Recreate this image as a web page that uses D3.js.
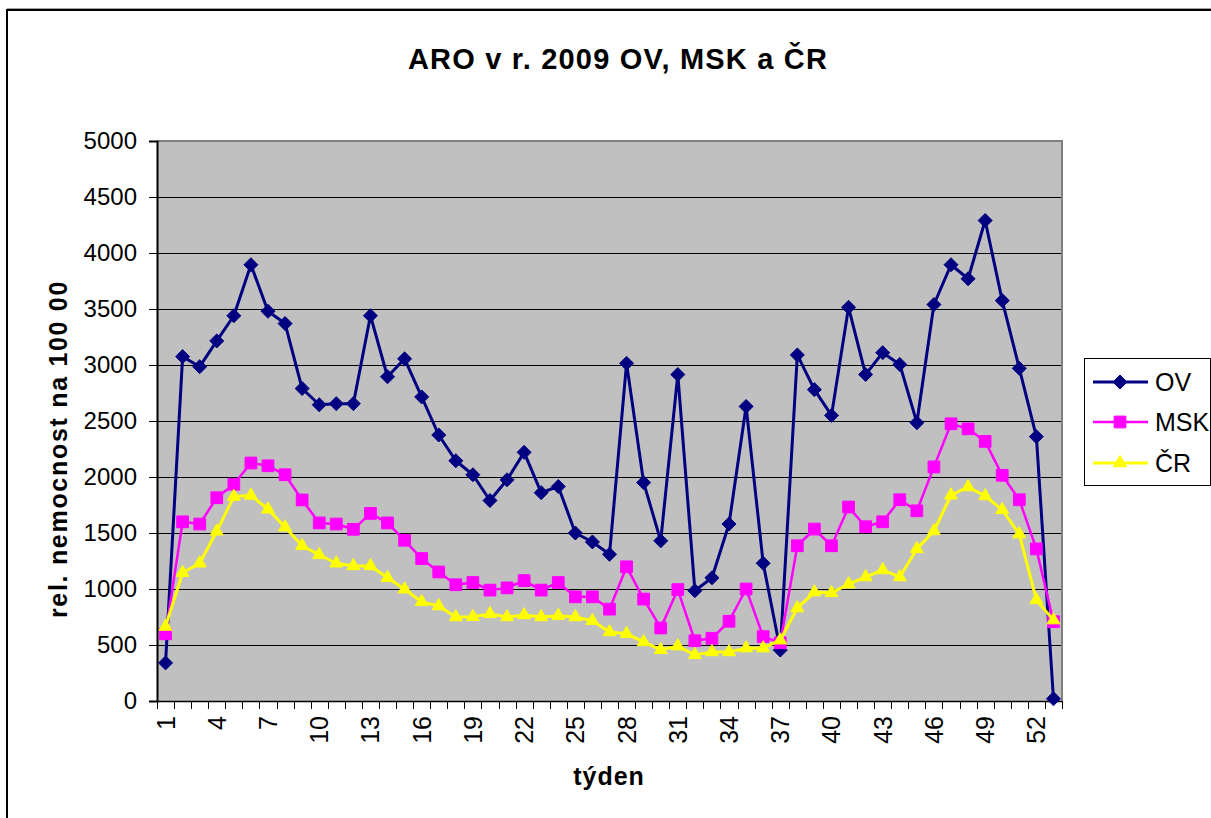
<!DOCTYPE html>
<html>
<head>
<meta charset="utf-8">
<script src="https://cdn.jsdelivr.net/npm/d3@7"></script>
<style>
  body { margin: 0; background: #fff; }
  svg { display: block; }
  text { font-family: "Liberation Sans", Arial, sans-serif; fill: #000; }
</style>
</head>
<body>
<svg id="chart" width="1211" height="818"></svg>
<script>
// Týdny 1–53
const weeks = [1,2,3,4,5,6,7,8,9,10,11,12,13,14,15,16,17,18,19,20,21,22,23,24,25,26,
  27,28,29,30,31,32,33,34,35,36,37,38,39,40,41,42,43,44,45,46,47,48,49,50,51,52,53];
const weekLabels = [1,4,7,10,13,16,19,22,25,28,31,34,37,40,43,46,49,52];
const yTicks = [0,500,1000,1500,2000,2500,3000,3500,4000,4500,5000];

// Relativní nemocnost ARO na 100 000 obyvatel
const ovValues = [340,3075,2985,3215,3440,3895,3480,3370,2790,2645,2655,2655,3440,2895,3055,2715,
  2375,2145,2020,1790,1975,2220,1860,1915,1500,1420,1310,3015,1950,1430,2915,985,1100,1580,2630,
  1230,455,3090,2780,2550,3515,2915,3110,3005,2485,3540,3895,3770,4290,3575,2970,2360,20];
const mskValues = [600,1600,1580,1815,1935,2125,2100,2020,1795,1590,1580,1533,1675,1590,1435,1272,
  1152,1038,1058,990,1010,1075,990,1058,930,930,820,1198,910,652,995,538,560,712,1000,
  575,520,1386,1535,1386,1732,1556,1600,1797,1698,2090,2475,2430,2318,2015,1797,1358,708];
const crValues = [665,1145,1230,1515,1825,1835,1712,1552,1386,1305,1230,1206,1206,1100,998,885,
  848,750,752,778,750,768,750,762,750,716,616,600,527,457,490,412,438,438,472,
  472,543,830,972,966,1043,1107,1170,1107,1358,1518,1837,1911,1830,1707,1490,902,722];

const series = [
  { name: "OV",  values: ovValues,  color: "#000080", symbol: d3.symbolDiamond2, size: 125, width: 3 },
  { name: "MSK", values: mskValues, color: "#FF00FF", symbol: d3.symbolSquare2,  size: 175, width: 2.5 },
  { name: "ČR",  values: crValues,  color: "#FFFF00", symbol: d3.symbolTriangle2, size: 120, width: 3 }
];

const svg = d3.select("#chart");

// vnější rámeček grafu
svg.append("line").attr("x1", 7).attr("x2", 1211).attr("y1", 8.5).attr("y2", 8.5)
  .attr("stroke", "#a0a0a0").attr("stroke-width", 1);
svg.append("rect").attr("x", 7).attr("y", 10).attr("width", 1300).attr("height", 900)
  .attr("fill", "none").attr("stroke", "#000").attr("stroke-width", 2);

const plot = { left: 157, top: 141, right: 1062, bottom: 701 };

const x = d3.scaleBand().domain(weeks).range([plot.left, plot.right]).paddingInner(0).paddingOuter(0);
const y = d3.scaleLinear().domain([0, 5000]).range([plot.bottom, plot.top]);
const cx = d => x(d) + x.bandwidth() / 2;

// plocha grafu
svg.append("rect")
  .attr("x", plot.left).attr("y", plot.top)
  .attr("width", plot.right - plot.left).attr("height", plot.bottom - plot.top)
  .attr("fill", "#C0C0C0");

// vodorovné mřížky
svg.append("g").selectAll("line").data(yTicks.filter(v => v > 0 && v < 5000)).join("line")
  .attr("x1", plot.left).attr("x2", plot.right)
  .attr("y1", d => Math.round(y(d)) + 0.5).attr("y2", d => Math.round(y(d)) + 0.5)
  .attr("stroke", "#000").attr("stroke-width", 1);

// šedý okraj nahoře a vpravo
svg.append("path")
  .attr("d", `M${plot.left},${plot.top} H${plot.right} V${plot.bottom}`)
  .attr("fill", "none").attr("stroke", "#808080").attr("stroke-width", 2);

// osa Y
const yAxis = d3.axisLeft(y).tickValues(yTicks).tickSize(8).tickPadding(12).tickFormat(d3.format("d"));
const gy = svg.append("g").attr("transform", `translate(${plot.left},0)`).call(yAxis);
gy.select(".domain").attr("stroke", "#000").attr("stroke-width", 2);
gy.selectAll(".tick line").attr("stroke", "#000");
gy.selectAll(".tick text").attr("font-size", 24).attr("font-family", "Liberation Sans, Arial, sans-serif")
  .attr("fill", "#000");

// osa X – značky na hranicích kategorií
const gx = svg.append("g");
gx.append("line").attr("x1", plot.left).attr("x2", plot.right)
  .attr("y1", plot.bottom + 0.5).attr("y2", plot.bottom + 0.5).attr("stroke", "#000").attr("stroke-width", 1.5);
const edges = weeks.map(w => x(w)).concat([x(weeks[weeks.length - 1]) + x.bandwidth()]);
gx.selectAll("line.tk").data(edges).join("line").attr("class", "tk")
  .attr("x1", d => Math.round(d) + 0.5).attr("x2", d => Math.round(d) + 0.5)
  .attr("y1", plot.bottom).attr("y2", plot.bottom + 8)
  .attr("stroke", "#000").attr("stroke-width", 1);
gx.selectAll("text").data(weekLabels).join("text")
  .attr("transform", d => `translate(${cx(d)},${plot.bottom + 15}) rotate(-90)`)
  .attr("text-anchor", "end").attr("dominant-baseline", "central")
  .attr("font-size", 25)
  .text(d => d);

// linie a značky řad
const line = d3.line().x((d, i) => cx(weeks[i])).y(d => y(d));
series.forEach(s => {
  const g = svg.append("g");
  g.append("path").datum(s.values).attr("d", line)
    .attr("fill", "none").attr("stroke", s.color).attr("stroke-width", s.width)
    .attr("stroke-linejoin", "round");
  g.selectAll("path.m").data(s.values).join("path").attr("class", "m")
    .attr("d", d3.symbol().type(s.symbol).size(s.size))
    .attr("transform", (d, i) => `translate(${cx(weeks[i])},${y(d)})`)
    .attr("fill", s.color).attr("stroke", s.color).attr("stroke-width", 1);
});

// titulky
svg.append("text").attr("x", 618).attr("y", 69).attr("text-anchor", "middle")
  .attr("font-size", 29).attr("font-weight", "bold").attr("letter-spacing", 1.2)
  .text("ARO v r. 2009 OV, MSK a ČR");
svg.append("text").attr("transform", `translate(67,449) rotate(-90)`).attr("text-anchor", "middle")
  .attr("font-size", 25).attr("font-weight", "bold").attr("letter-spacing", 1.7)
  .text("rel. nemocnost na 100 00");
svg.append("text").attr("x", 609).attr("y", 785).attr("text-anchor", "middle")
  .attr("font-size", 25).attr("font-weight", "bold").attr("letter-spacing", 1)
  .text("týden");

// legenda
const lg = svg.append("g");
lg.append("rect").attr("x", 1084.5).attr("y", 358.5).attr("width", 126).attr("height", 127)
  .attr("fill", "#fff").attr("stroke", "#000").attr("stroke-width", 1);
const lgY = [382, 422, 463];
series.forEach((s, i) => {
  lg.append("line").attr("x1", 1093).attr("x2", 1148).attr("y1", lgY[i]).attr("y2", lgY[i])
    .attr("stroke", s.color).attr("stroke-width", s.width);
  lg.append("path").attr("d", d3.symbol().type(s.symbol).size(s.size))
    .attr("transform", `translate(1120,${lgY[i]})`).attr("fill", s.color).attr("stroke", s.color);
  lg.append("text").attr("x", 1155).attr("y", lgY[i]).attr("dominant-baseline", "central")
    .attr("font-size", 25).text(s.name);
});
</script>
</body>
</html>
